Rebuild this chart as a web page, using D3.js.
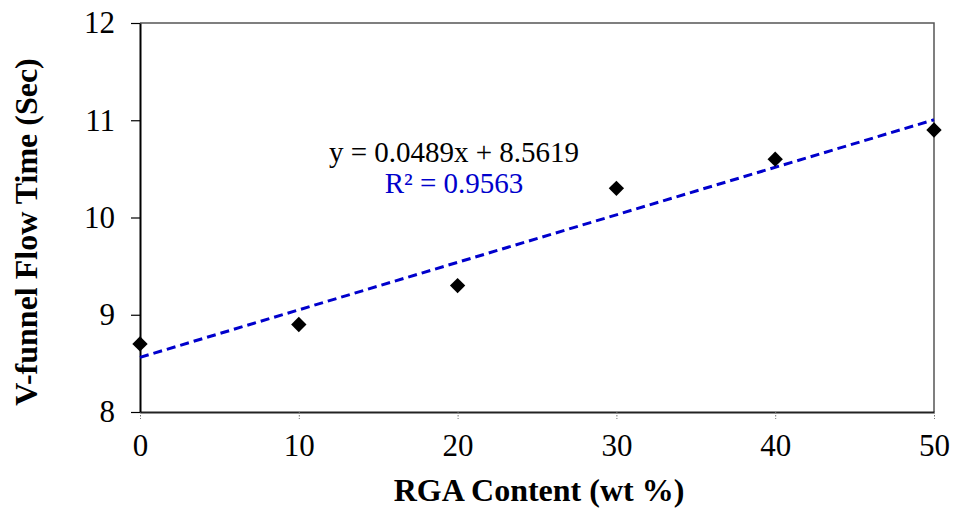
<!DOCTYPE html>
<html>
<head>
<meta charset="utf-8">
<script src="https://cdn.jsdelivr.net/npm/d3@7"></script>
<style>
  body { margin: 0; background: #fff; }
  svg { display: block; font-family: 'Liberation Serif', 'Times New Roman', serif; }
</style>
</head>
<body>
<svg></svg>
<script>
const size = {w: 956, h: 511};
const margin = {t: 23, r: 22, b: 99, l: 140};

// data
const rgaContent = [0, 10, 20, 30, 40, 50];
const flowTime = [8.7, 8.9, 9.3, 10.3, 10.6, 10.9];
const xTicks = [0, 10, 20, 30, 40, 50];
const yTicks = [8, 9, 10, 11, 12];
const equationLabel = 'y = 0.0489x + 8.5619';
const r2Label = 'R² = 0.9563';

const serif = "'Liberation Serif', 'Times New Roman', serif";

const svg = d3.select('svg')
    .attr('width', size.w)
    .attr('height', size.h);

const innerW = size.w - margin.l - margin.r;
const innerH = size.h - margin.t - margin.b;

const x = d3.scaleLinear().domain([0, 50]).range([margin.l, margin.l + innerW]);
const y = d3.scaleLinear().domain([8, 12]).range([margin.t + innerH, margin.t]);

// plot frame (top and right)
svg.append('path')
    .attr('d', `M${x(0)},${y(12)}H${x(50)}V${y(8)}`)
    .attr('fill', 'none')
    .attr('stroke', '#555')
    .attr('stroke-width', 1.5);

// x axis
const xAxis = svg.append('g')
    .attr('transform', `translate(0,${y(8)})`)
    .call(d3.axisBottom(x).tickValues(xTicks).tickFormat(d3.format('d'))
        .tickSize(7).tickSizeOuter(0).tickPadding(15));
xAxis.attr('font-family', serif).attr('font-size', 31);
xAxis.select('.domain').attr('stroke', '#222').attr('stroke-width', 2);
xAxis.selectAll('.tick line').attr('stroke', '#777').attr('stroke-dasharray', '1.5,1.5');
xAxis.selectAll('.tick text').attr('fill', '#000');

// y axis
const yAxis = svg.append('g')
    .attr('transform', `translate(${x(0)},0)`)
    .call(d3.axisLeft(y).tickValues(yTicks).tickFormat(d3.format('d'))
        .tickSize(9).tickSizeOuter(0).tickPadding(16));
yAxis.attr('font-family', serif).attr('font-size', 31);
yAxis.select('.domain').attr('stroke', '#000').attr('stroke-width', 2);
yAxis.selectAll('.tick line').attr('stroke', '#000').attr('stroke-width', 1.2);
yAxis.selectAll('.tick text').attr('fill', '#000');

// linear trendline (least squares from the data)
const mx = d3.mean(rgaContent), my = d3.mean(flowTime);
const slope = d3.sum(rgaContent, (v, i) => (v - mx) * (flowTime[i] - my)) /
              d3.sum(rgaContent, v => (v - mx) * (v - mx));
const intercept = my - slope * mx;

svg.append('line')
    .attr('x1', x(0)).attr('y1', y(intercept))
    .attr('x2', x(50)).attr('y2', y(intercept + slope * 50))
    .attr('stroke', '#0000CC')
    .attr('stroke-width', 3)
    .attr('stroke-dasharray', '9,5');

// points
svg.append('g')
    .selectAll('path')
    .data(rgaContent.map((v, i) => ({x: v, y: flowTime[i]})))
    .join('path')
    .attr('d', d3.symbol(d3.symbolDiamond2, 150))
    .attr('transform', d => `translate(${x(d.x)},${y(d.y)})`)
    .attr('fill', '#000');

// equation labels
svg.append('text')
    .attr('x', 454).attr('y', 162)
    .attr('text-anchor', 'middle')
    .attr('font-size', 29)
    .attr('fill', '#000')
    .text(equationLabel);
svg.append('text')
    .attr('x', 454).attr('y', 193)
    .attr('text-anchor', 'middle')
    .attr('font-size', 29)
    .attr('fill', '#0000CC')
    .text(r2Label);

// axis titles
svg.append('text')
    .attr('x', 539).attr('y', 501)
    .attr('text-anchor', 'middle')
    .attr('font-size', 32)
    .attr('font-weight', 'bold')
    .text('RGA Content (wt %)');
svg.append('text')
    .attr('transform', 'translate(37,232) rotate(-90)')
    .attr('text-anchor', 'middle')
    .attr('font-size', 32)
    .attr('font-weight', 'bold')
    .text('V-funnel Flow Time (Sec)');
</script>
</body>
</html>
